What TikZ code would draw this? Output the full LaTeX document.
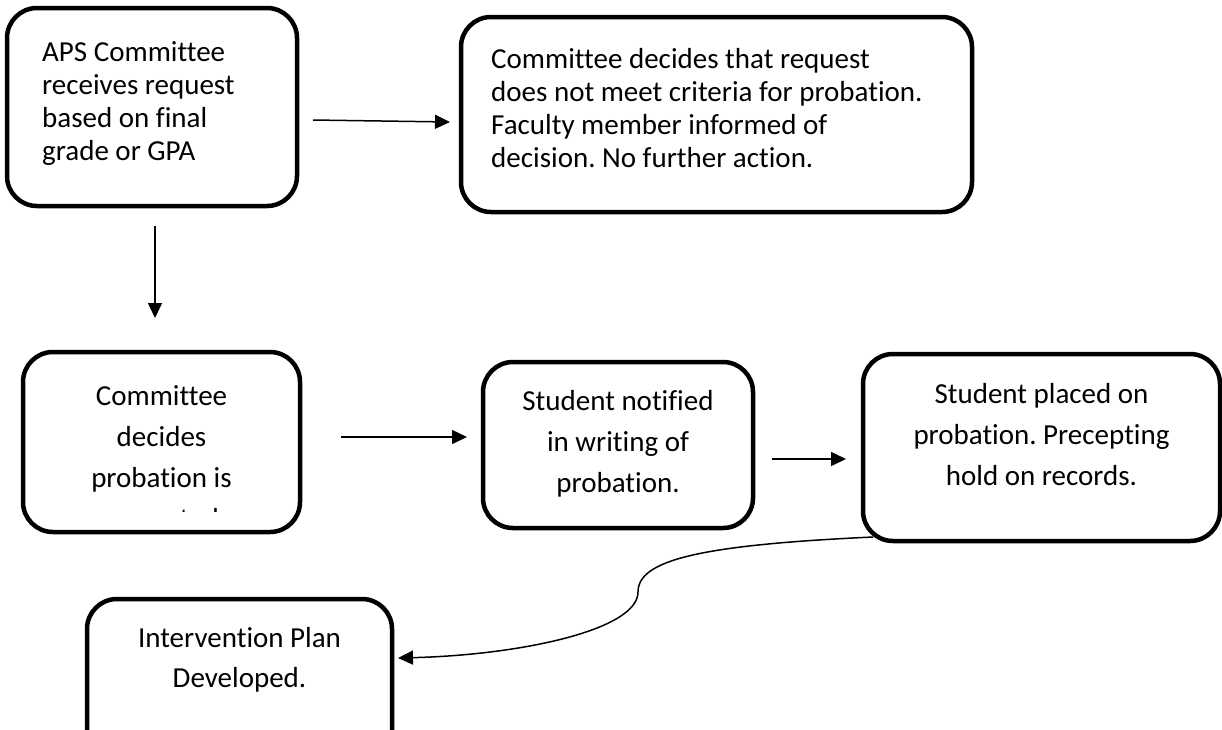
\documentclass[tikz,border=0pt]{standalone}
\usepackage{fontspec}
\setmainfont{Carlito}[Ligatures=NoCommon]
\usetikzlibrary{arrows.meta}
\frenchspacing
\begin{document}
\begin{tikzpicture}[x=1pt,y=-1pt,
  box/.style={draw=black, line width=4.5pt, rounded corners=30pt, inner sep=0pt, outer sep=0pt},
  txtA/.style={inner sep=0pt, font=\fontsize{29}{33}\selectfont\frenchspacing},
  txtB/.style={inner sep=0pt, align=center, font=\fontsize{29}{41}\selectfont\frenchspacing},
  arr/.style={draw=black, line width=1.5pt, -{Triangle[length=15pt,width=14pt]}}]
\clip (0,0) rectangle (1222,729);
\fill[white] (0,0) rectangle (1222,729);
% boxes
\node[box, minimum width=290pt, minimum height=198pt] (b1) at (152,107) {};
\node[box, minimum width=511pt, minimum height=195pt] (b2) at (716.5,114.5) {};
\node[box, minimum width=277pt, minimum height=180pt] (b3) at (161.5,442) {};
\node[box, minimum width=270pt, minimum height=166pt] (b4) at (618,445) {};
\node[box, minimum width=357pt, minimum height=187pt] (b5) at (1041.5,447.5) {};
\node[box, minimum width=305pt, minimum height=171pt] (b6) at (239.5,684.5) {};
% texts (base anchor = baseline of last line)
\node[txtA, anchor=base west, align=left] (t1) at (42,160)
  {APS Committee\\receives request\\based on final\\grade or GPA};
\node[txtA, anchor=base west, align=left] (t2) at (491,167)
  {Committee decides that request\\does not meet criteria for probation.\\Faculty member informed of\\decision. No further action.};
\begin{scope}
\clip (0,0) rectangle (1222,511.5);
\node[txtB, anchor=base] (t3) at (161.5,528.5)
  {Committee\\decides\\probation is\\warranted.};
\end{scope}
\node[txtB, anchor=base] (t4) at (618,492)
  {Student notified\\in writing of\\probation.};
\node[txtB, anchor=base] (t5) at (1041.5,485)
  {Student placed on\\probation. Precepting\\hold on records.};
\node[txtB, anchor=base, font=\fontsize{29}{40}\selectfont] (t6) at (239.5,687)
  {Intervention Plan\\Developed.};
% connectors
\draw[arr] ([shift={(16,13)}]b1.east) -- ([shift={(-11,7.5)}]b2.west);
\draw[arr] ([shift={(3,20)}]b1.south) -- ([shift={(-6.5,-34)}]b3.north);
\draw[arr] ([shift={(41,-5)}]b3.east) -- ([shift={(-16,-8)}]b4.west);
\draw[arr] ([shift={(19,14)}]b4.east) -- ([shift={(-17,11.5)}]b5.west);
\draw[arr] ([shift={(10,-4)}]b5.south west) .. controls (700,545) and (638,560) .. (638,592)
  .. controls (638,630) and (520,655) .. ([shift={(6,-26.5)}]b6.east);
\end{tikzpicture}
\end{document}
